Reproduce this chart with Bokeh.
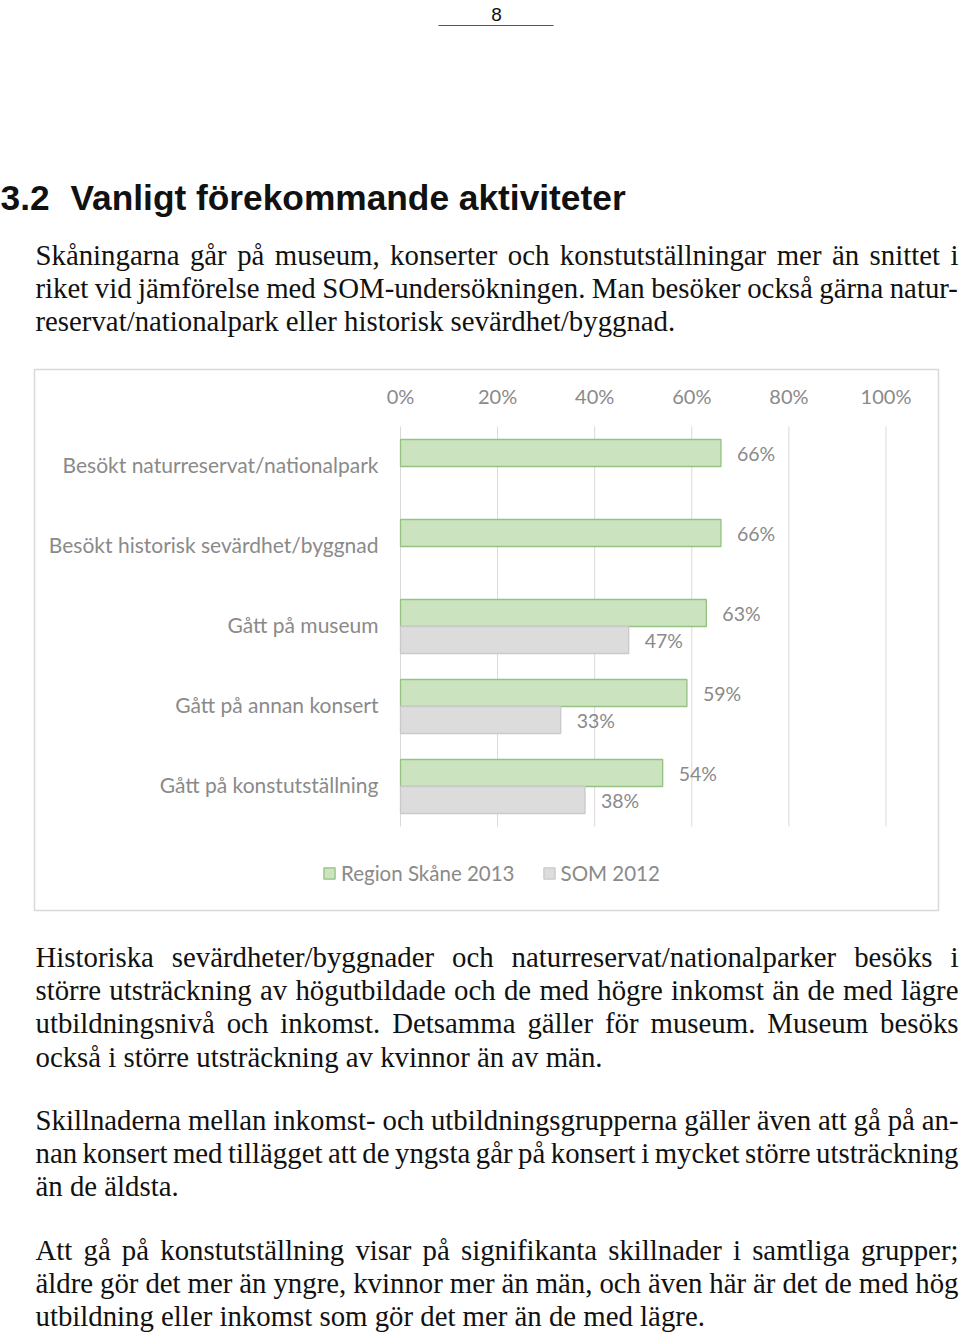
from bokeh.plotting import figure
from bokeh.models import Range1d, ColumnDataSource, Legend, LegendItem
from bokeh.core.properties import value
from bokeh.embed import file_html
from bokeh.resources import INLINE

# ---------------- data ----------------
categories = [
    "Besökt naturreservat/nationalpark",
    "Besökt historisk sevärdhet/byggnad",
    "Gått på museum",
    "Gått på annan konsert",
    "Gått på konstutställning",
]
region_skane_2013 = [66, 66, 63, 59, 54]
som_2012 = [None, None, 47, 33, 38]
series_names = ["Region Skåne 2013", "SOM 2012"]
tick_values = [0, 20, 40, 60, 80, 100]
tick_labels = ["0%", "20%", "40%", "60%", "80%", "100%"]

page_number = "8"
heading_number = "3.2"
heading_title = "Vanligt förekommande aktiviteter"

# (text, justified)
para1 = [
    ("Skåningarna går på museum, konserter och konstutställningar mer än snittet i", True),
    ("riket vid jämförelse med SOM-undersökningen. Man besöker också gärna natur-", True),
    ("reservat/nationalpark eller historisk sevärdhet/byggnad.", False),
]
para2 = [
    ("Historiska sevärdheter/byggnader och naturreservat/nationalparker besöks i", True),
    ("större utsträckning av högutbildade och de med högre inkomst än de med lägre", True),
    ("utbildningsnivå och inkomst. Detsamma gäller för museum. Museum besöks", True),
    ("också i större utsträckning av kvinnor än av män.", False),
]
para3 = [
    ("Skillnaderna mellan inkomst- och utbildningsgrupperna gäller även att gå på an-", True),
    ("nan konsert med tillägget att de yngsta går på konsert i mycket större utsträckning", True),
    ("än de äldsta.", False),
]
para4 = [
    ("Att gå på konstutställning visar på signifikanta skillnader i samtliga grupper;", True),
    ("äldre gör det mer än yngre, kvinnor mer än män, och även här är det de med hög", True),
    ("utbildning eller inkomst som gör det mer än de med lägre.", False),
]

# ---------------- layout constants (window pixels) ----------------
W, H = 960, 1336
X0_PX, X100_PX = 400.0, 885.5          # 0% and 100% positions
ROW0_PX, ROW_STEP = 466.0, 80.0        # first category centre, row pitch
BAR_H = 27.0 / ROW_STEP
CHART_TEXT = "#8a8a8a"
FONT_CHART = "Lato"

px_per_pct = (X100_PX - X0_PX) / 100.0

p = figure(width=W, height=H, output_backend="svg", toolbar_location=None,
           x_range=Range1d(0, W), y_range=Range1d(H, 0),
           x_axis_location=None, y_axis_location=None, min_border=0)
p.outline_line_color = None
p.background_fill_color = "white"
p.border_fill_color = "white"
p.xgrid.visible = False
p.ygrid.visible = False

p.extra_x_ranges = {"pct": Range1d((0 - X0_PX) / px_per_pct, (W - X0_PX) / px_per_pct)}
p.extra_y_ranges = {"rows": Range1d((H - ROW0_PX) / ROW_STEP, (0 - ROW0_PX) / ROW_STEP)}

# ---------------- page header ----------------
p.text(x=[496], y=[14], text=[page_number], text_font=value("Liberation Sans"),
       text_font_size=value("19px"), text_align="center", text_baseline="alphabetic",
       text_color="#111111")
p.segment(x0=[438], y0=[25], x1=[553], y1=[25], line_color="#555555", line_width=1)

p.text(x=[0, 70], y=[197, 197], text=[heading_number, heading_title],
       text_font=value("Liberation Sans"), text_font_style="bold",
       text_font_size=value("35.3px"), text_align="left", text_baseline="alphabetic",
       text_color="#111111")

# ---------------- body text with justification ----------------
TW = {' ': 250, ',': 250, '.': 250, '/': 278, '-': 333, ';': 278, ':': 278,
      'A': 722, 'B': 667, 'C': 667, 'D': 722, 'E': 611, 'F': 556, 'G': 722, 'H': 722,
      'I': 333, 'J': 389, 'K': 722, 'L': 611, 'M': 889, 'N': 722, 'O': 722, 'P': 556,
      'Q': 722, 'R': 667, 'S': 556, 'T': 611, 'U': 722, 'V': 722, 'W': 944, 'X': 722,
      'Y': 722, 'Z': 611,
      'a': 444, 'b': 500, 'c': 444, 'd': 500, 'e': 444, 'f': 333, 'g': 500, 'h': 500,
      'i': 278, 'j': 278, 'k': 500, 'l': 278, 'm': 778, 'n': 500, 'o': 500, 'p': 500,
      'q': 500, 'r': 333, 's': 389, 't': 278, 'u': 500, 'v': 500, 'w': 722, 'x': 500,
      'y': 500, 'z': 444, 'å': 444, 'ä': 444, 'ö': 500, 'é': 444}
FS_BODY = 28.8
LEFT, RIGHT = 35.0, 958.0


def word_width(w):
    return sum(TW.get(c, 500) for c in w) * FS_BODY / 1000.0


bx, by, bt = [], [], []


def add_para(lines, y0, pitch=33.2):
    for k, (line, just) in enumerate(lines):
        y = y0 + k * pitch
        if just:
            words = line.split(" ")
            widths = [word_width(w) for w in words]
            gap = (RIGHT - LEFT - sum(widths)) / (len(words) - 1)
            x = LEFT
            for w, wd in zip(words, widths):
                bx.append(x); by.append(y); bt.append(w)
                x += wd + gap
        else:
            bx.append(LEFT); by.append(y); bt.append(line)


add_para(para1, 254)
add_para(para2, 956.5)
add_para(para3, 1119.5)
add_para(para4, 1249)

p.text(x="x", y="y", text="t", source=ColumnDataSource(dict(x=bx, y=by, t=bt)),
       text_font=value("Liberation Serif"), text_font_size=value("%.1fpx" % FS_BODY),
       text_align="left", text_baseline="alphabetic", text_color="#111111")

# ---------------- chart ----------------
# outer chart box
p.quad(left=[34], right=[938], top=[369], bottom=[910], fill_color=None,
       line_color="#d9d9d9", line_width=1.5)

# vertical grid lines
p.segment(x0=tick_values, x1=tick_values, y0=[426] * len(tick_values), y1=[826] * len(tick_values),
          x_range_name="pct", line_color="#d9d9d9", line_width=1)

# tick labels on top
p.text(x=tick_values, y=[395.5] * len(tick_values), text=tick_labels, x_range_name="pct",
       text_font=value(FONT_CHART), text_font_size=value("20px"), text_color=CHART_TEXT,
       text_align="center", text_baseline="middle")

idx = list(range(len(categories)))

# category labels
p.text(x=[378] * len(categories), y=idx, y_offset=-2, text=categories, y_range_name="rows",
       text_font=value(FONT_CHART), text_font_size=value("21px"), text_color=CHART_TEXT,
       text_align="right", text_baseline="middle")

nan = float("nan")
green_src = ColumnDataSource(dict(y=[i - BAR_H / 2 for i in idx], v=region_skane_2013,
                                  lab=["%d%%" % v for v in region_skane_2013]))
som_vals = [nan if v is None else v for v in som_2012]
gray_src = ColumnDataSource(dict(y=[i + BAR_H / 2 for i in idx], v=som_vals))

g_r = p.hbar(y="y", left=0, right="v", height=BAR_H, source=green_src,
             x_range_name="pct", y_range_name="rows",
             fill_color="#cbe3bf", line_color="#95c183", line_width=1.3)
s_r = p.hbar(y="y", left=0, right="v", height=BAR_H, source=gray_src,
             x_range_name="pct", y_range_name="rows",
             fill_color="#dcdcdc", line_color="#c9c9c9", line_width=1.3)

# data labels
p.text(x="v", y="y", text="lab", source=green_src, x_range_name="pct", y_range_name="rows",
       x_offset=16, text_font=value(FONT_CHART), text_font_size=value("19.5px"),
       text_color=CHART_TEXT, text_align="left", text_baseline="middle")
som_lab_src = ColumnDataSource(dict(
    y=[i + BAR_H / 2 for i, v in zip(idx, som_2012) if v is not None],
    v=[v for v in som_2012 if v is not None],
    lab=["%d%%" % v for v in som_2012 if v is not None]))
p.text(x="v", y="y", text="lab", source=som_lab_src, x_range_name="pct", y_range_name="rows",
       x_offset=16, text_font=value(FONT_CHART), text_font_size=value("19.5px"),
       text_color=CHART_TEXT, text_align="left", text_baseline="middle")

legend = Legend(items=[LegendItem(label=series_names[0], renderers=[g_r]),
                       LegendItem(label=series_names[1], renderers=[s_r])],
                orientation="horizontal", location=(322, 451), padding=0, margin=0,
                spacing=27, label_standoff=5, glyph_width=14, glyph_height=14,
                label_text_font=FONT_CHART, label_text_font_size="20.5px",
                label_text_color=CHART_TEXT, border_line_color=None,
                background_fill_alpha=0)
p.add_layout(legend)

open("out.html", "w").write(file_html(p, INLINE))
